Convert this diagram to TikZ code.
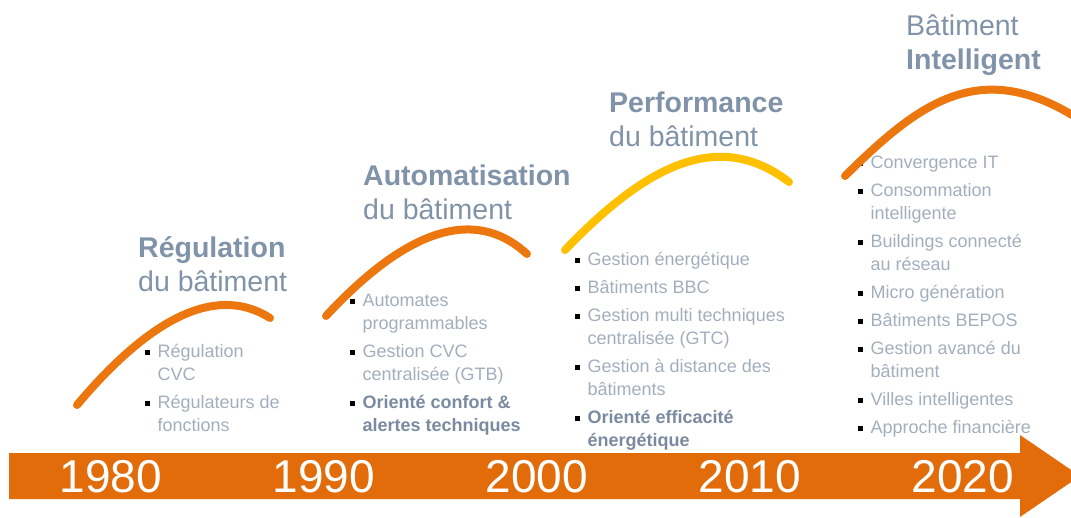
\documentclass[tikz,border=0pt]{standalone}
\usepackage{fontspec}
\setmainfont{Liberation Sans}
\usetikzlibrary{
  positioning,
}
\definecolor{BandOrange}{HTML}{E36C0A}
\definecolor{ArcOrange}{HTML}{EC770F}
\definecolor{ArcYellow}{HTML}{FFC000}
\definecolor{TitleGray}{HTML}{8093A8}
\definecolor{ItemGray}{HTML}{A3AEBD}
\definecolor{BoldGray}{HTML}{7A8A9F}
\newcommand{\itemmark}{\textcolor{black}{\rule[2.5pt]{4.5pt}{4.5pt}}}
\newcommand{\phaselist}[1]{\begin{tabular}[t]{@{}p{12.5pt}@{}l@{}}#1\end{tabular}}
\newcommand{\phasename}[1]{\begin{tabular}[t]{@{}l@{}}#1\end{tabular}}
\tikzset{
  phase title/.style = {
    anchor=base west,
    inner sep=0pt,
    text=TitleGray,
    font=\fontsize{28.5}{34}\selectfont
  },
  item list/.style = {
    anchor=base west,
    inner sep=0pt,
    text=ItemGray,
    font=\fontsize{18}{23}\selectfont
  },
  year label/.style = {
    inner sep=0pt,
    text=white,
    font=\fontsize{46}{46}\selectfont
  },
  phase arc/.style = {
    line width=8pt,
    line cap=round,
    draw=ArcOrange
  },
}

\begin{document}
\begin{tikzpicture}[x=1pt, y=-1pt]
  \useasboundingbox (0,0) rectangle (1071,517);
  \clip (0,0) rectangle (1071,517);
  %% time band
  \fill[BandOrange] (9,453) -- (1020,453) -- (1020,435) -- (1080,476)
    -- (1020,517) -- (1020,499) -- (9,499) -- cycle;
  \foreach \yr/\x in {1980/111, 1990/324, 2000/537, 2010/750, 2020/963} {
    \node[year label] (y\yr) at (\x,477) {\yr};
  }
  %% phase titles
  \node[phase title] (t1) at (138,257) {\phasename{\textbf{Régulation}\\ du bâtiment}};
  \node[phase title] (t2) at (363,185) {\phasename{\textbf{Automatisation}\\ du bâtiment}};
  \node[phase title] (t3) at (609,112) {\phasename{\textbf{Performance}\\ du bâtiment}};
  \node[phase title] (t4) at (906,35) {\phasename{Bâtiment\\ \textbf{Intelligent}}};
  %% item lists
  \node[item list] (l1) at (145,357) {\phaselist{
      \itemmark & Régulation\\ & CVC\\[5pt]
      \itemmark & Régulateurs de\\ & fonctions}};
  \node[item list] (l2) at (350,306) {\phaselist{
      \itemmark & Automates\\ & programmables\\[5pt]
      \itemmark & Gestion CVC\\ & centralisée (GTB)\\[5pt]
      \itemmark & \textcolor{BoldGray}{\textbf{Orienté confort \&}}\\
      & \textcolor{BoldGray}{\textbf{alertes techniques}}}};
  \node[item list] (l3) at (575,265) {\phaselist{
      \itemmark & Gestion énergétique\\[5pt]
      \itemmark & Bâtiments BBC\\[5pt]
      \itemmark & Gestion multi techniques\\ & centralisée (GTC)\\[5pt]
      \itemmark & Gestion à distance des\\ & bâtiments\\[5pt]
      \itemmark & \textcolor{BoldGray}{\textbf{Orienté efficacité}}\\
      & \textcolor{BoldGray}{\textbf{énergétique}}}};
  \node[item list] (l4) at (858,168) {\phaselist{
      \itemmark & Convergence IT\\[5pt]
      \itemmark & Consommation\\ & intelligente\\[5pt]
      \itemmark & Buildings connecté\\ & au réseau\\[5pt]
      \itemmark & Micro génération\\[5pt]
      \itemmark & Bâtiments BEPOS\\[5pt]
      \itemmark & Gestion avancé du\\ & bâtiment\\[5pt]
      \itemmark & Villes intelligentes\\[5pt]
      \itemmark & Approche financière}};
  %% curving arcs
  \draw[phase arc] (77,405) .. controls (140,330) and (210,280) .. (270,318);
  \draw[phase arc] (326,316) .. controls (391,246) and (466,198) .. (527,254);
  \draw[phase arc, draw=ArcYellow] (565,250) .. controls (640,172) and (715,125) .. (789,182);
  \draw[phase arc] (845,176) .. controls (922,100) and (985,52) .. (1092,128);
\end{tikzpicture}
\end{document}
